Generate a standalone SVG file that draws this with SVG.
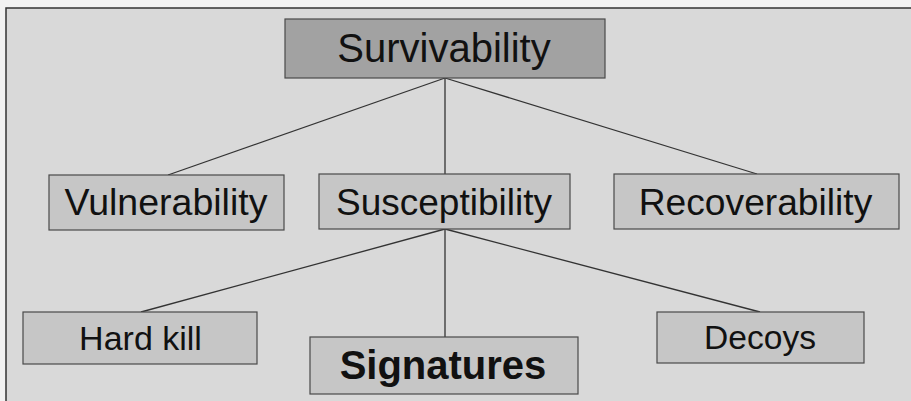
<svg xmlns="http://www.w3.org/2000/svg" width="911" height="401" viewBox="0 0 911 401">
<style>
.box{fill:#c6c6c6;stroke:#4a4a4a;stroke-width:1.2}
.top{fill:#a2a2a2}
.lbl{font-family:"Liberation Sans",Arial,sans-serif;fill:#111;text-anchor:middle}
.conn line{stroke:#333;stroke-width:1.3}
</style>
<rect x="0" y="0" width="911" height="401" fill="#f2f2f2"/>
<rect x="6" y="8" width="910" height="400" fill="#d9d9d9" stroke="#333" stroke-width="1.5"/>
<g id="connectors" class="conn">
<line x1="445" y1="78" x2="168" y2="175"/>
<line x1="445" y1="78" x2="445" y2="174"/>
<line x1="445" y1="78" x2="757" y2="174"/>
<line x1="445" y1="229" x2="141" y2="312"/>
<line x1="445" y1="229" x2="445" y2="337"/>
<line x1="445" y1="229" x2="760" y2="312"/>
</g>
<g id="survivability">
<rect class="box top" x="285" y="19" width="320" height="59"/>
<text class="lbl" x="444" y="62" font-size="40">Survivability</text>
</g>
<g id="vulnerability">
<rect class="box" x="49" y="175" width="235" height="55"/>
<text class="lbl" x="166" y="215" font-size="37.5">Vulnerability</text>
</g>
<g id="susceptibility">
<rect class="box" x="319" y="174" width="251" height="55"/>
<text class="lbl" x="444" y="215" font-size="37">Susceptibility</text>
</g>
<g id="recoverability">
<rect class="box" x="614" y="174" width="285" height="55"/>
<text class="lbl" x="755.5" y="215" font-size="37.2">Recoverability</text>
</g>
<g id="hardkill">
<rect class="box" x="23" y="312" width="234" height="52"/>
<text class="lbl" x="140.5" y="350" font-size="34">Hard kill</text>
</g>
<g id="signatures">
<rect class="box" x="310" y="337" width="268" height="57"/>
<text class="lbl" x="443" y="379" font-size="40" font-weight="bold">Signatures</text>
</g>
<g id="decoys">
<rect class="box" x="657" y="312" width="207" height="51"/>
<text class="lbl" x="760" y="349" font-size="33.6">Decoys</text>
</g>
</svg>
